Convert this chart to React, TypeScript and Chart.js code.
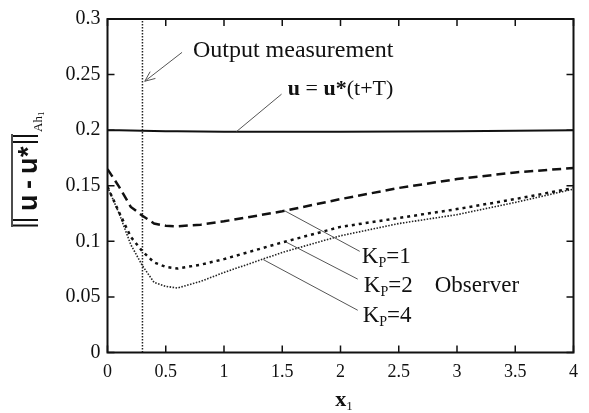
import React, { useEffect, useRef } from "react";
import { Chart, registerables } from "chart.js";

Chart.register(...registerables);

// ---- data ----
const X_VALUES = [0, 0.1, 0.2, 0.3, 0.4, 0.5, 0.6, 0.8, 1.0, 1.5, 2.0, 2.5, 3.0, 3.5, 4.0];
const TARGET_NORM = [0.2, 0.2, 0.1998, 0.1995, 0.1993, 0.199, 0.199, 0.1988, 0.1986, 0.1985, 0.1986, 0.1988, 0.199, 0.1995, 0.2];
const KP1_NORM = [0.165, 0.149, 0.131, 0.123, 0.116, 0.114, 0.1135, 0.115, 0.118, 0.127, 0.138, 0.148, 0.156, 0.162, 0.166];
const KP2_NORM = [0.149, 0.126, 0.104, 0.091, 0.081, 0.077, 0.0755, 0.079, 0.084, 0.099, 0.113, 0.121, 0.129, 0.138, 0.148];
const KP4_NORM = [0.149, 0.125, 0.097, 0.078, 0.063, 0.0595, 0.058, 0.064, 0.072, 0.09, 0.105, 0.116, 0.124, 0.135, 0.147];
const OUTPUT_X = 0.3;
const X_TICKS = [0, 0.5, 1, 1.5, 2, 2.5, 3, 3.5, 4];
const X_TICK_LABELS = ["0", "0.5", "1", "1.5", "2", "2.5", "3", "3.5", "4"];
const Y_TICKS = [0, 0.05, 0.1, 0.15, 0.2, 0.25, 0.3];
const Y_TICK_LABELS = ["0", "0.05", "0.1", "0.15", "0.2", "0.25", "0.3"];

const SERIF = '"Liberation Serif", "Times New Roman", serif';
const INK = "#111";

type Run = { text: string; font: string; dy?: number };

function drawRuns(ctx: CanvasRenderingContext2D, x: number, y: number, runs: Run[]) {
  let cx = x;
  for (const r of runs) {
    ctx.font = r.font;
    ctx.fillText(r.text, cx, y + (r.dy || 0));
    cx += ctx.measureText(r.text).width;
  }
}

const overlayPlugin = {
  id: "overlay",
  afterDraw(chart: any) {
    const { ctx, chartArea: a, scales } = chart;
    const xs = scales.x;
    const ys = scales.y;
    const px = (v: number) => xs.getPixelForValue(v);
    const py = (v: number) => ys.getPixelForValue(v);
    ctx.save();

    // frame
    ctx.strokeStyle = INK;
    ctx.lineWidth = 2;
    ctx.setLineDash([]);
    ctx.strokeRect(a.left, a.top, a.right - a.left, a.bottom - a.top);

    // inward ticks on all sides
    ctx.lineWidth = 1.5;
    ctx.beginPath();
    xs.ticks.forEach((t: any) => {
      const x = px(t.value);
      ctx.moveTo(x, a.bottom);
      ctx.lineTo(x, a.bottom - 7);
      ctx.moveTo(x, a.top);
      ctx.lineTo(x, a.top + 7);
    });
    ys.ticks.forEach((t: any) => {
      const y = py(t.value);
      ctx.moveTo(a.left, y);
      ctx.lineTo(a.left + 7, y);
      ctx.moveTo(a.right, y);
      ctx.lineTo(a.right - 7, y);
    });
    ctx.stroke();

    // leader lines
    ctx.strokeStyle = "#555";
    ctx.lineWidth = 1;
    const leader = (x1: number, y1: number, x2: number, y2: number) => {
      ctx.beginPath();
      ctx.moveTo(px(x1), py(y1));
      ctx.lineTo(px(x2), py(y2));
      ctx.stroke();
    };
    leader(1.494, 0.2324, 1.108, 0.1988);
    leader(1.522, 0.1274, 2.165, 0.091);
    leader(1.537, 0.0991, 2.148, 0.066);
    leader(1.337, 0.0836, 2.148, 0.038);

    // arrow to output measurement line
    const ax1 = px(0.64), ay1 = py(0.27), ax2 = px(OUTPUT_X + 0.02), ay2 = py(0.244);
    ctx.beginPath();
    ctx.moveTo(ax1, ay1);
    ctx.lineTo(ax2, ay2);
    const ang = Math.atan2(ay1 - ay2, ax1 - ax2);
    const hl = 11;
    ctx.moveTo(ax2 + hl * Math.cos(ang - 0.4), ay2 + hl * Math.sin(ang - 0.4));
    ctx.lineTo(ax2, ay2);
    ctx.lineTo(ax2 + hl * Math.cos(ang + 0.4), ay2 + hl * Math.sin(ang + 0.4));
    ctx.stroke();

    // annotation texts
    ctx.fillStyle = INK;
    ctx.textBaseline = "alphabetic";
    ctx.textAlign = "left";
    const f24 = `24px ${SERIF}`;
    drawRuns(ctx, px(0.733), py(0.2656), [{ text: "Output measurement", font: f24 }]);
    const b22 = `bold 22px ${SERIF}`;
    const r22 = `22px ${SERIF}`;
    drawRuns(ctx, px(1.548), py(0.2317), [
      { text: "u", font: b22 },
      { text: " = ", font: r22 },
      { text: "u*", font: b22 },
      { text: "(t+T)", font: r22 },
    ]);
    const f23 = `23px ${SERIF}`;
    const s14 = `14px ${SERIF}`;
    const kp = (x: number, y: number, n: string) =>
      drawRuns(ctx, px(x), py(y), [
        { text: "K", font: f23 },
        { text: "P", font: s14, dy: 4 },
        { text: "=" + n, font: f23 },
      ]);
    kp(2.183, 0.0808, "1");
    kp(2.2, 0.054, "2");
    kp(2.19, 0.0272, "4");
    drawRuns(ctx, px(2.809), py(0.054), [{ text: "Observer", font: f23 }]);

    // x axis title
    drawRuns(ctx, px(1.955), a.bottom + 53, [
      { text: "x", font: `bold 22px ${SERIF}` },
      { text: "1", font: `13px ${SERIF}`, dy: 4 },
    ]);

    // y axis title (rotated)
    ctx.save();
    ctx.translate(a.left - 70.5, a.bottom - 125.5);
    ctx.rotate(-Math.PI / 2);
    ctx.strokeStyle = INK;
    ctx.lineWidth = 2;
    ctx.beginPath();
    for (const tx of [1.5, 7, 85, 91]) {
      ctx.moveTo(tx, -24);
      ctx.lineTo(tx, 1);
    }
    ctx.stroke();
    ctx.lineWidth = 1.5;
    ctx.beginPath();
    ctx.moveTo(0, -25);
    ctx.lineTo(93, -25);
    ctx.stroke();
    const bs = `bold 27px "Liberation Sans", Arial, sans-serif`;
    ctx.font = bs;
    ctx.fillText("u", 16, 0);
    ctx.fillText("-", 38, 0);
    ctx.fillText("u", 53, 0);
    ctx.fillText("*", 70, 0);
    drawRuns(ctx, 95, 5, [
      { text: "Ah", font: `13px ${SERIF}` },
      { text: "1", font: `9px ${SERIF}`, dy: 2 },
    ]);
    ctx.restore();

    ctx.restore();
  },
};

const pts = (ys: number[]) => X_VALUES.map((x, i) => ({ x, y: ys[i] }));

export default function App() {
  const ref = useRef<HTMLCanvasElement | null>(null);
  useEffect(() => {
    document.body.style.margin = "0";
    const canvas = ref.current;
    if (!canvas) return;
    const chart = new Chart(canvas, {
      type: "line",
      data: {
        datasets: [
          {
            label: "u = u*(t+T)",
            data: pts(TARGET_NORM),
            borderColor: INK,
            borderWidth: 2,
            pointRadius: 0,
          },
          {
            label: "Kp=1",
            data: pts(KP1_NORM),
            borderColor: INK,
            borderWidth: 2.5,
            borderDash: [9, 5],
            pointRadius: 0,
          },
          {
            label: "Kp=2",
            data: pts(KP2_NORM),
            borderColor: INK,
            borderWidth: 2.5,
            borderDash: [3, 4],
            pointRadius: 0,
          },
          {
            label: "Kp=4",
            data: pts(KP4_NORM),
            borderColor: "#222",
            borderWidth: 1.6,
            borderDash: [1.5, 1.5],
            pointRadius: 0,
          },
          {
            label: "Output measurement",
            data: [
              { x: OUTPUT_X, y: Y_TICKS[0] },
              { x: OUTPUT_X, y: Y_TICKS[Y_TICKS.length - 1] },
            ],
            borderColor: "#222",
            borderWidth: 1.5,
            borderDash: [1.5, 1.5],
            pointRadius: 0,
          },
        ],
      },
      options: {
        animation: false,
        responsive: false,
        layout: { padding: { left: 0, right: 15.5, top: 16, bottom: 0 } },
        plugins: { legend: { display: false }, tooltip: { enabled: false } },
        scales: {
          x: {
            type: "linear",
            min: 0,
            max: 4,
            grid: { display: false, drawTicks: false },
            border: { display: false },
            afterBuildTicks: (s: any) => {
              s.ticks = X_TICKS.map((v) => ({ value: v }));
            },
            afterFit: (s: any) => {
              s.height = 60.5;
            },
            ticks: {
              color: INK,
              font: { family: SERIF, size: 18 },
              padding: 9,
              maxRotation: 0,
              callback: (v: any) => X_TICK_LABELS[X_TICKS.indexOf(Number(v))] ?? "",
            },
          },
          y: {
            type: "linear",
            min: 0,
            max: 0.3,
            grid: { display: false, drawTicks: false },
            border: { display: false },
            afterBuildTicks: (s: any) => {
              s.ticks = Y_TICKS.map((v) => ({ value: v }));
            },
            afterFit: (s: any) => {
              s.width = 107.5;
            },
            ticks: {
              color: INK,
              font: { family: SERIF, size: 20 },
              padding: 7,
              callback: (v: any) => {
                const i = Y_TICKS.findIndex((t) => Math.abs(t - Number(v)) < 1e-9);
                return i >= 0 ? Y_TICK_LABELS[i] : "";
              },
            },
          },
        },
      },
      plugins: [overlayPlugin],
    });
    return () => chart.destroy();
  }, []);
  return <canvas ref={ref} width={589} height={413} style={{ display: "block" }} />;
}
